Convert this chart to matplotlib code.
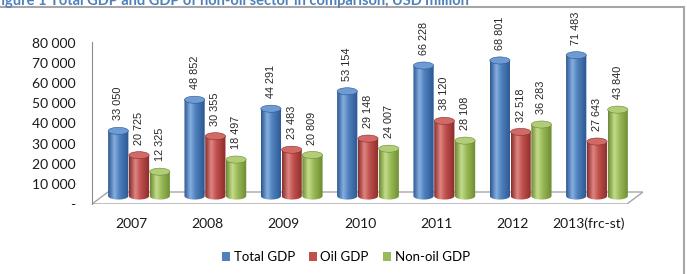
import matplotlib
matplotlib.use('Agg')
import matplotlib.pyplot as plt
import numpy as np
from matplotlib.colors import LinearSegmentedColormap
from matplotlib.patches import Ellipse, Rectangle, Polygon, Patch, PathPatch
from matplotlib.path import Path

years = ['2007', '2008', '2009', '2010', '2011', '2012', '2013(frc-st)']
total_gdp = [33050, 48852, 44291, 53154, 66228, 68801, 71483]
oil_gdp = [20725, 30355, 23483, 29148, 38120, 32518, 27643]
non_oil_gdp = [12325, 18497, 20809, 24007, 28108, 36283, 43840]
series_names = ['Total GDP', 'Oil GDP', 'Non-oil GDP']
series = [total_gdp, oil_gdp, non_oil_gdp]

# dark edge, highlight, base, top cap
shades = [('#2a5690', '#86aee0', '#4f81bd', '#6e9bd4'),
          ('#8a2c2a', '#de8683', '#c0504d', '#d16a67'),
          ('#6a8a30', '#c4dc8c', '#9bbb59', '#b2cd78')]

W, H = 687, 274
fig = plt.figure(figsize=(W / 100, H / 100), dpi=100)


def px(x0, y0, x1, y1):
    return [x0 / W, 1 - y1 / H, (x1 - x0) / W, (y1 - y0) / H]


# frame round the chart and the caption above it (cut by the top edge in the source)
fig.add_artist(Rectangle((-0.01, -0.01), 684 / W + 0.01, 1 - 7 / H + 0.01,
                         transform=fig.transFigure, fill=False,
                         edgecolor='#a6a6a6', lw=1.5))
fig.text(-7 / W, 1 - 5 / H,
         'Figure 1 Total GDP and GDP of non-oil sector in comparison, USD million',
         color='#4f81bd', fontweight='bold', fontsize=10.5, family='Lato',
         ha='left', va='baseline')

# axis used only for the value labels on the left
tax = fig.add_axes(px(92, 43, 643, 204))
tax.set_ylim(0, 80000)
ticks = np.arange(0, 80001, 10000)
tax.set_yticks(ticks, ['-' if t == 0 else f'{t:,}'.replace(',', ' ') for t in ticks],
               family='Lato', fontsize=10, color='#1a1a1a')
tax.tick_params(axis='y', length=0, pad=12)
tax.set_xticks([])
tax.patch.set_visible(False)
for s in tax.spines.values():
    s.set_visible(False)

ax = fig.add_axes(px(92, 42, 643, 204))
ax.patch.set_visible(False)
for name, s in ax.spines.items():
    s.set_visible(name == 'left')
ax.spines['left'].set_color('#8c8c8c')
ax.set_yticks([])

# floor of the 3D plot
ax.add_patch(Polygon([(0, 0), (16 / 551, 12 / 162), (1, 12 / 162), (535 / 551, 0)],
                     closed=True, transform=ax.transAxes, facecolor='white',
                     edgecolor='#a6a6a6', lw=1.0, zorder=1))

x = np.arange(len(years))
width = 0.265
offsets = [-0.272, 0.0, 0.272]
ell_h = 3600
grad = np.linspace(0, 1, 64).reshape(1, -1)
t = np.linspace(np.pi, 2 * np.pi, 40)

for k, (vals, (dark, light, base, cap)) in enumerate(zip(series, shades)):
    cmap = LinearSegmentedColormap.from_list(
        f'c{k}', [(0, dark), (0.3, light), (0.55, base), (1, dark)])
    for xi, v in zip(x + offsets[k], vals):
        left, right = xi - width / 2, xi + width / 2
        verts = [(left, v), (left, 0)]
        verts += list(zip(xi + width / 2 * np.cos(t), ell_h / 2 * np.sin(t)))
        verts += [(right, v), (left, v)]
        body = PathPatch(Path(verts, closed=True), facecolor='none',
                         edgecolor='none', transform=ax.transData)
        ax.add_patch(body)
        im = ax.imshow(grad, cmap=cmap, extent=(left, right, -ell_h / 2, v),
                       aspect='auto', interpolation='bilinear', zorder=3)
        im.set_clip_path(body)
        ax.add_patch(Ellipse((xi, v), width, ell_h, facecolor=cap,
                             edgecolor=dark, lw=0.4, zorder=4))
        ax.annotate(f'{v:,}'.replace(',', ' '), (xi, v), xytext=(0, 7.5),
                    textcoords='offset points', rotation=90, ha='center',
                    va='bottom', fontsize=7.8, family='Liberation Sans',
                    color='#262626', annotation_clip=False, zorder=5)

ax.set_xticks(x - 0.105, years, family='Lato', fontsize=10, color='#1a1a1a')
ax.tick_params(axis='x', length=0, pad=10)
ax.set_xlim(-0.616, 6.603)
ax.set_ylim(-4060, 78170)

handles = [Patch(facecolor=s[2]) for s in shades]
fig.legend(handles, series_names, loc='center', bbox_to_anchor=(346 / W, 1 - 257 / H),
           ncol=3, frameon=False, handlelength=0.6, handleheight=0.6,
           handletextpad=0.25, columnspacing=1.1,
           prop={'family': 'Lato', 'size': 9.5})

fig.savefig('out.png', dpi=100)
